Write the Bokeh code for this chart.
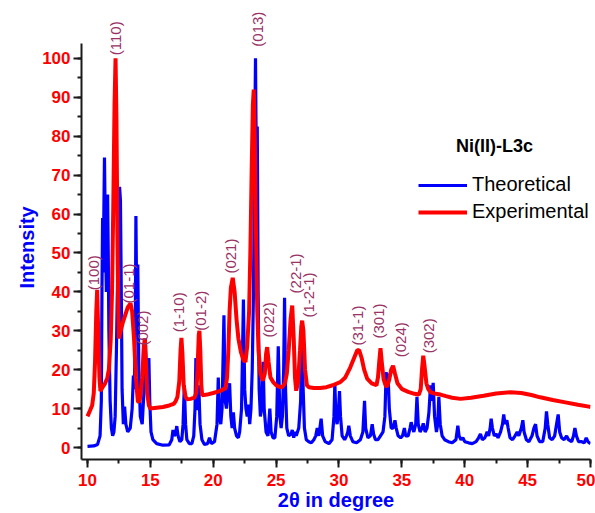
import math
from bokeh.plotting import figure
from bokeh.models import (Range1d, SingleIntervalTicker, Legend, LegendItem,
                          ColumnDataSource, Label, Title)
from bokeh.core.properties import value
from bokeh.embed import file_html
from bokeh.resources import INLINE

# ---------------- data ----------------
theo_x = [10.0, 10.5, 10.8, 11.0, 11.1, 11.15, 11.2, 11.25, 11.3, 11.35, 11.42, 11.5, 11.55, 11.6, 11.65,
          11.7, 11.8, 11.9, 12.0, 12.1, 12.2, 12.3, 12.4, 12.5, 12.55, 12.62, 12.7, 12.75, 12.85, 12.95,
          13.05, 13.2, 13.4, 13.55, 13.65, 13.72, 13.8, 13.85, 13.92, 14.0, 14.08, 14.2, 14.35, 14.5, 14.6,
          14.7, 14.8, 14.88, 14.95, 15.05, 15.2, 15.5, 16.0, 16.5, 16.7, 16.8, 16.9, 17.0, 17.1, 17.2,
          17.35, 17.5, 17.6, 17.7, 17.8, 17.9, 18.1, 18.3, 18.45, 18.55, 18.62, 18.7, 18.8, 18.85, 18.95,
          19.1, 19.3, 19.55, 19.7, 19.85, 20.1, 20.3, 20.4, 20.5, 20.6, 20.7, 20.85, 20.95, 21.05, 21.15,
          21.3, 21.4, 21.5, 21.6, 21.7, 21.85, 22.0, 22.1, 22.25, 22.4, 22.5, 22.6, 22.7, 22.8, 22.9,
          23.0, 23.1, 23.2, 23.3, 23.36, 23.43, 23.5, 23.57, 23.65, 23.75, 23.85, 23.97, 24.05, 24.2, 24.35,
          24.5, 24.6, 24.75, 24.9, 25.05, 25.17, 25.3, 25.4, 25.5, 25.6, 25.67, 25.75, 25.85, 26.0, 26.2,
          26.28, 26.4, 26.5, 26.6, 26.8, 26.95, 27.05, 27.15, 27.25, 27.4, 27.6, 27.8, 28.0, 28.15, 28.27,
          28.4, 28.52, 28.58, 28.7, 28.9, 29.2, 29.45, 29.6, 29.67, 29.75, 29.85, 29.95, 30.04, 30.12, 30.25,
          30.45, 30.6, 30.7, 30.78, 30.9, 31.1, 31.4, 31.7, 31.9, 32.03, 32.12, 32.3, 32.5, 32.64, 32.75,
          32.9, 33.1, 33.3, 33.5, 33.65, 33.75, 33.85, 33.9, 34.0, 34.15, 34.3, 34.45, 34.55, 34.7, 34.9,
          35.05, 35.2, 35.3, 35.5, 35.65, 35.74, 35.85, 35.95, 36.1, 36.2, 36.3, 36.45, 36.6, 36.7, 36.85,
          37.0, 37.15, 37.28, 37.38, 37.49, 37.6, 37.75, 37.85, 37.94, 38.05, 38.2, 38.4, 38.7, 39.0, 39.3,
          39.45, 39.55, 39.7, 39.85, 40.0, 40.3, 40.6, 40.9, 41.1, 41.25, 41.4, 41.6, 41.78, 41.9, 42.02,
          42.1, 42.2, 42.35, 42.5, 42.65, 42.85, 43.0, 43.1, 43.2, 43.35, 43.45, 43.6, 43.8, 44.0, 44.17,
          44.3, 44.5, 44.62, 44.72, 44.9, 45.1, 45.35, 45.5, 45.63, 45.75, 45.95, 46.2, 46.4, 46.5, 46.6,
          46.75, 46.95, 47.15, 47.3, 47.43, 47.55, 47.7, 47.9, 48.1, 48.25, 48.5, 48.65, 48.76, 48.88, 49.05,
          49.3, 49.5, 49.66, 49.8, 50.0]
theo_y = [0.3, 0.4, 0.8, 3, 12, 40, 59, 45, 60, 74.5, 55, 40, 60, 65, 50,
          30, 12, 5, 3, 4, 8, 25, 45, 60, 67, 63.5, 35, 15, 6, 10.5,
          6, 4, 5, 10, 18.5, 15, 30, 59.5, 35, 47, 20, 8, 6, 15, 28,
          15, 18, 23, 12, 4, 2, 1, 0.6, 0.7, 2, 4.5, 3, 3.5, 5.5, 3,
          1.5, 2, 6, 16, 6, 2, 1, 1, 3, 10, 23, 10, 10, 16, 6,
          2, 0.8, 1, 2.5, 1, 1.5, 6, 18, 8, 6, 10, 34, 12, 10, 14,
          16.5, 8, 5, 9, 5, 3, 2.5, 4, 10, 38, 15, 10, 8, 11, 6,
          10, 20, 40, 80, 100, 70, 82.5, 40, 15, 8, 10, 22, 10, 4, 3,
          10, 4, 2.5, 2.5, 8, 26, 8, 5, 8, 20, 38.5, 15, 5, 3, 3.5,
          4.5, 2.5, 4, 3, 5, 12, 31, 15, 5, 2, 1.5, 1.2, 2, 3, 5,
          3, 6, 7.4, 3, 1.5, 1, 2, 8, 16.5, 8, 6, 9, 14.5, 8, 3,
          2, 3, 4, 5.6, 3, 1.5, 1.2, 2, 4, 12, 5, 2.5, 3, 6, 3.5,
          2, 2, 3, 4, 8, 19.4, 14, 19, 10, 5, 5, 7, 5, 3, 2.5,
          3, 5, 3, 3, 5, 6.5, 5, 4, 6, 13, 6, 4, 5, 6.2, 4,
          5, 9, 16, 12, 16.6, 8, 4, 6, 13, 6, 3, 2, 1.5, 1.2, 2,
          5.6, 3, 2, 2.5, 1.5, 1.2, 1, 1.5, 2.5, 3.5, 2, 2.5, 4, 3, 5,
          7.4, 5, 3, 3.5, 2.5, 4, 6, 8.5, 6, 7, 5, 2.5, 2, 3, 4,
          3, 5, 7, 4, 2, 1.5, 3, 5, 6, 3, 1.5, 1.5, 5, 9.3, 6,
          2.5, 2, 3, 6, 8.5, 4, 2.5, 2, 3, 2, 1.5, 3, 5, 3, 1.5,
          1.5, 1.2, 2.5, 1.5, 1.0]

expt_x = [10.0, 10.2, 10.37, 10.5, 10.6, 10.7, 10.77, 10.85, 10.95, 11.03, 11.2, 11.4, 11.57, 11.7, 11.85,
          11.95, 12.05, 12.15, 12.23, 12.3, 12.38, 12.45, 12.5, 12.6, 12.8, 13.0, 13.2, 13.42, 13.55, 13.7,
          13.85, 14.0, 14.08, 14.2, 14.35, 14.48, 14.56, 14.65, 14.75, 14.88, 15.0, 15.5, 16.0, 16.5, 16.85,
          17.0, 17.15, 17.3, 17.4, 17.47, 17.55, 17.65, 17.8, 17.93, 18.2, 18.5, 18.65, 18.75, 18.85, 18.9,
          18.97, 19.05, 19.12, 19.5, 20.0, 20.5, 20.97, 21.1, 21.2, 21.3, 21.4, 21.55, 21.7, 21.85, 22.0,
          22.2, 22.4, 22.56, 22.7, 22.85, 22.95, 23.05, 23.15, 23.22, 23.3, 23.4, 23.5, 23.6, 23.75, 23.94,
          24.1, 24.2, 24.29, 24.4, 24.55, 24.77, 25.0, 25.25, 25.48, 25.7, 25.85, 26.0, 26.15, 26.28, 26.4,
          26.5, 26.6, 26.75, 26.9, 27.0, 27.07, 27.17, 27.3, 27.45, 27.6, 28.0, 28.5, 29.0, 29.5, 30.1,
          30.5, 30.9, 31.2, 31.45, 31.6, 31.8, 32.0, 32.24, 32.6, 32.98, 33.1, 33.2, 33.3, 33.4, 33.55,
          33.7, 33.83, 34.0, 34.15, 34.3, 34.45, 34.65, 35.02, 35.5, 36.0, 36.35, 36.5, 36.6, 36.7, 36.8,
          36.95, 37.1, 37.28, 37.7, 38.07, 38.5, 39.0, 39.66, 40.5, 41.5, 42.5, 43.64, 44.5, 45.3, 46.0,
          47.0, 48.0, 49.0, 49.87, 50.0]
expt_y = [8.0, 9.5, 10.8, 14, 22, 35, 40.5, 30, 18, 14.5, 15.5, 16.5, 17.8, 20, 28,
          40, 62, 88, 100, 85, 55, 35, 28, 29.5, 32, 34, 36, 37, 35, 28,
          18, 12, 11.6, 13, 18, 26, 28, 22, 14, 10.8, 10, 10.2, 10.4, 10.8, 11.2,
          11.8, 13, 17, 25, 28.2, 24, 16, 13, 12.4, 12.5, 12.8, 14, 20, 29, 30,
          25, 16, 13.4, 13.6, 14, 14.5, 15.2, 18, 25, 35, 41, 43.6, 40, 33, 28,
          24.5, 22.5, 22, 26, 35, 50, 70, 88, 92, 80, 55, 35, 25, 19, 17.2,
          19, 24, 25.8, 22, 18, 16.8, 16, 15.6, 15.5, 16.5, 19, 25, 33, 36.5, 28,
          18, 14.6, 17, 25, 31, 32.6, 30, 20, 16, 15.5, 15.3, 15.3, 15.5, 16, 16.8,
          18, 20.6, 23, 25, 25, 23, 20, 17.7, 16.5, 16, 18, 22, 25.5, 22, 17.5,
          16, 15.6, 17.5, 20, 21, 19, 16.5, 15, 14.3, 13.8, 13.6, 15, 20, 23.6, 21,
          16.5, 15, 14.2, 13.8, 13.6, 13.2, 12.8, 12.5, 12.8, 13.3, 13.9, 14.2, 14.0, 13.5, 12.9,
          12.2, 11.6, 11.0, 10.5, 10.4]

hkl_labels = ["(100)", "(110)", "(01-1)", "(002)", "(1-10)", "(01-2)", "(021)", "(013)",
              "(022)", "(22-1)", "(1-2-1)", "(31-1)", "(301)", "(024)", "(302)"]
hkl_x = [10.5, 12.23, 13.29, 14.35, 17.26, 18.99, 21.37, 23.49,
         24.42, 26.54, 27.6, 31.45, 33.17, 34.9, 37.14]
hkl_y = [40.4, 100.8, 37.0, 26.2, 29.6, 30.0, 44.7, 103.0,
         28.3, 39.6, 33.4, 26.2, 28.0, 23.2, 24.2]

x_ticks = [10, 15, 20, 25, 30, 35, 40, 45, 50]
y_ticks = [0, 10, 20, 30, 40, 50, 60, 70, 80, 90, 100]

# ---------------- figure ----------------
FONT = "Liberation Sans"
p = figure(width=595, height=513, output_backend="svg", toolbar_location=None,
           x_range=Range1d(9.523, 50), y_range=Range1d(-3.08, 112.3),
           min_border_left=81, min_border_right=5, min_border_top=10, min_border_bottom=54)
p.xgrid.visible = False
p.ygrid.visible = False
p.outline_line_color = None

r_theo = p.line(theo_x, theo_y, line_color="#0000FF", line_width=3.2)
r_expt = p.line(expt_x, expt_y, line_color="#FF0000", line_width=4)

src = ColumnDataSource(dict(x=hkl_x, y=hkl_y, t=hkl_labels))
p.text(x="x", y="y", text="t", source=src, angle=math.pi / 2,
       text_align="left", text_baseline="middle",
       text_font=value(FONT), text_font_size="15px", text_color="#993366")

p.xaxis.ticker = SingleIntervalTicker(interval=5, num_minor_ticks=2)
p.yaxis.ticker = SingleIntervalTicker(interval=10, num_minor_ticks=2)
p.yaxis.bounds = (-3.08, 103.86)
for ax in (p.xaxis[0], p.yaxis[0]):
    ax.axis_line_color = "#1a1a1a"
    ax.axis_line_width = 2
    ax.major_tick_line_color = "#1a1a1a"
    ax.major_tick_line_width = 2
    ax.minor_tick_line_color = "#1a1a1a"
    ax.minor_tick_line_width = 2
    ax.major_tick_in = 0
    ax.major_tick_out = 8
    ax.minor_tick_in = 0
    ax.minor_tick_out = 4
    ax.major_label_text_font = FONT
    ax.major_label_text_font_style = "bold"
    ax.major_label_text_font_size = "17px"
    ax.major_label_text_color = "#FF0000"
    ax.axis_label_text_font = FONT
    ax.axis_label_text_font_style = "bold"
    ax.axis_label_text_font_size = "20px"
    ax.axis_label_text_color = "#0000FF"
p.xaxis.axis_label = "2θ in degree"
p.xaxis.major_label_standoff = 6
p.xaxis.axis_label_standoff = 0
p.yaxis.major_label_standoff = 3

# y-axis title placed along the axis part that carries ticks
p.add_layout(Title(text="Intensity", align="left", offset=171, standoff=4,
                   text_font=FONT, text_font_style="bold", text_font_size="20px",
                   text_color="#0000FF"), "left")

legend = Legend(items=[LegendItem(label="Theoretical", renderers=[r_theo]),
                       LegendItem(label="Experimental", renderers=[r_expt])],
                location=(337, 236), orientation="vertical",
                glyph_width=49, glyph_height=20, label_height=20, spacing=4,
                padding=0, margin=0, label_standoff=5,
                label_text_font=FONT, label_text_font_size="20px", label_text_color="#000000",
                background_fill_alpha=0, border_line_alpha=0)
p.add_layout(legend)

p.add_layout(Label(x=42.37, y=77.6, text="Ni(II)-L3c", text_align="center", text_baseline="middle",
                   text_font=FONT, text_font_style="bold", text_font_size="18px", text_color="#000000"))

open("out.html", "w").write(file_html(p, INLINE))
